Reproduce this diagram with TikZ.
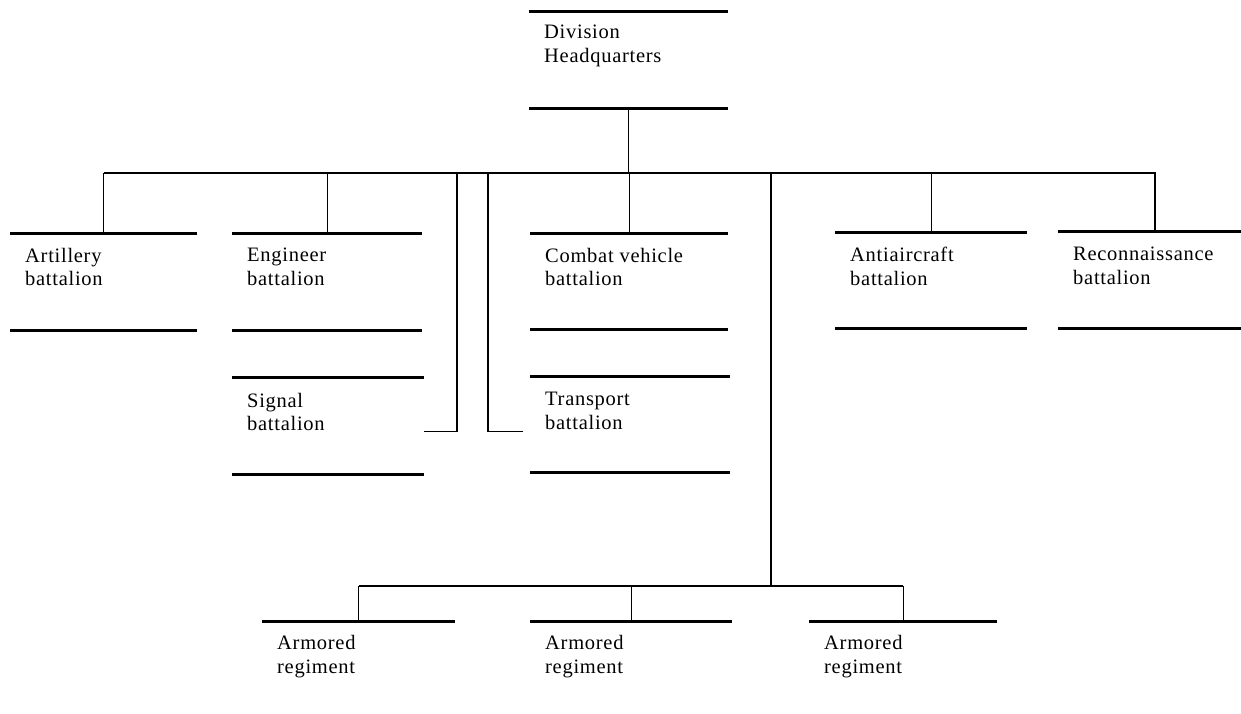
\documentclass[tikz,border=0pt]{standalone}
\usepackage{fontspec}
\setmainfont[LetterSpace=3.5]{Liberation Serif}
\usetikzlibrary{positioning,calc}

\begin{document}
\begin{tikzpicture}[x=1pt, y=-1pt,
    unit/.style={draw=none, anchor=north west, inner sep=0pt, minimum height=97pt},
    lbl/.style={anchor=north west, inner sep=0pt, align=left, font=\fontsize{20.5}{23.5}\selectfont},
    rule/.style={line width=3pt},
    link/.style={line width=1.3pt}]
    \useasboundingbox (0,0) rectangle (1241,714);

    % top headquarters
    \node[unit, minimum width=199pt, minimum height=96pt] (hq) at (529,12) {};
    \node[lbl] (hq-l) at ([shift={(15pt,-13pt)}]hq.north west) {Division\\Headquarters};

    % battalions
    \node[unit, minimum width=187pt] (art) at (10,233) {};
    \node[unit, minimum width=190pt] (eng) at (232,233) {};
    \node[unit, minimum width=192pt] (sig) at (232,377) {};
    \node[unit, minimum width=198pt, minimum height=96pt] (cv) at (530,233) {};
    \node[unit, minimum width=200pt, minimum height=96pt] (tr) at (530,376) {};
    \node[unit, minimum width=192pt, minimum height=96pt] (aa) at (835,232) {};
    \node[unit, minimum width=183pt] (rec) at (1058,231) {};

    \node[lbl] (art-l) at ([shift={(15pt,-15pt)}]art.north west) {Artillery\\battalion};
    \node[lbl] (eng-l) at ([shift={(15pt,-15pt)}]eng.north west) {Engineer\\battalion};
    \node[lbl] (sig-l) at ([shift={(15pt,-16pt)}]sig.north west) {Signal\\battalion};
    \node[lbl] (cv-l) at ([shift={(15pt,-15pt)}]cv.north west) {Combat vehicle\\battalion};
    \node[lbl] (tr-l) at ([shift={(15pt,-16pt)}]tr.north west) {Transport\\battalion};
    \node[lbl] (aa-l) at ([shift={(15pt,-15pt)}]aa.north west) {Antiaircraft\\battalion};
    \node[lbl] (rec-l) at ([shift={(15pt,-16pt)}]rec.north west) {Reconnaissance\\battalion};

    % regiments
    \node[unit, minimum width=193pt, minimum height=0pt] (ar1) at (262,621) {};
    \node[unit, minimum width=202pt, minimum height=0pt] (ar2) at (530,621) {};
    \node[unit, minimum width=188pt, minimum height=0pt] (ar3) at (809,621) {};
    \foreach \n in {ar1,ar2,ar3}
        \node[lbl] (\n-l) at ([shift={(15pt,-14.5pt)}]\n.north west) {Armored\\regiment};

    % rules
    \foreach \n in {hq,art,eng,sig,cv,tr,aa,rec}
        \draw[rule] (\n.north west) -- (\n.north east) (\n.south west) -- (\n.south east);
    \foreach \n in {ar1,ar2,ar3}
        \draw[rule] (\n.north west) -- (\n.north east);

    % connectors
    \coordinate (bus) at (627,173);
    \coordinate (rec-top) at (1155,231);
    \coordinate (sig-j) at (457,173);
    \coordinate (tr-j) at (488,173);
    \coordinate (arm-j) at (771,173);
    \coordinate (arm-bus) at (771,586);

    \draw[link] (hq.south) -- (hq.south |- bus);
    \draw[link] (art.north |- bus) -- (rec-top |- bus) -- (rec-top);
    \draw[link] (art.north) -- (art.north |- bus);
    \draw[link] (eng.north) -- (eng.north |- bus);
    \draw[link] (cv.north) -- (cv.north |- bus);
    \draw[link] (aa.north) -- (aa.north |- bus);
    \draw[link] (sig-j) |- ([yshift=-5.5pt]sig.east);
    \draw[link] (tr-j) |- ([shift={(-7pt,-7pt)}]tr.west);
    \draw[link] (arm-j) -- (arm-bus);
    \draw[link] (ar1.north |- arm-bus) -- (ar3.north |- arm-bus);
    \draw[link] (ar1.north) -- (ar1.north |- arm-bus);
    \draw[link] (ar2.north) -- (ar2.north |- arm-bus);
    \draw[link] (ar3.north) -- (ar3.north |- arm-bus);
\end{tikzpicture}
\end{document}
